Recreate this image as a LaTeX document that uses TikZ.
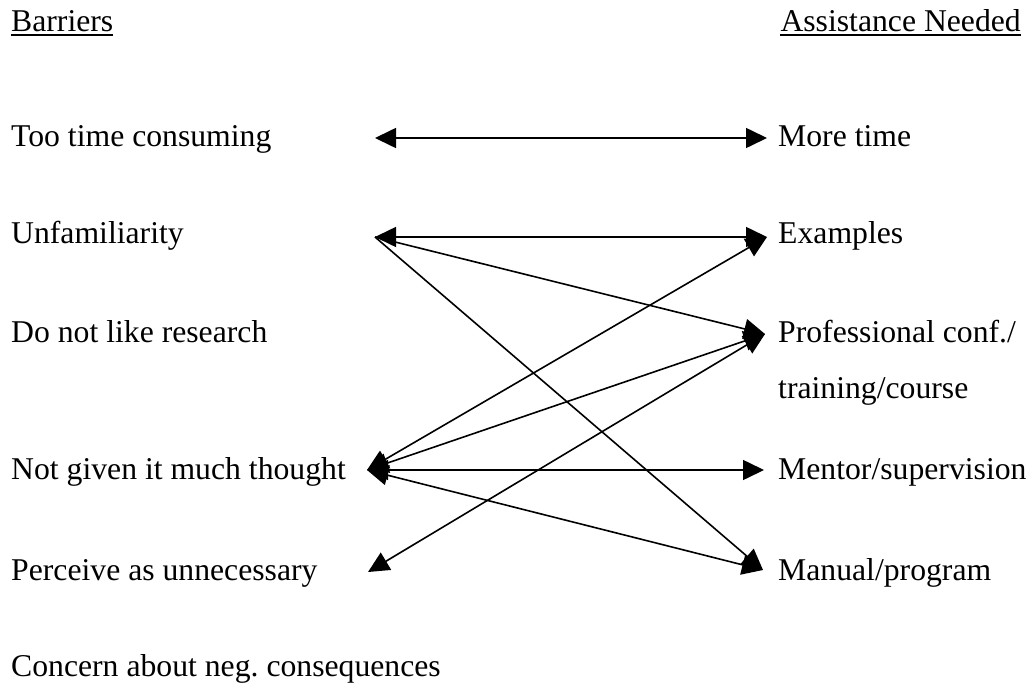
\documentclass[tikz,border=0pt]{standalone}
\usepackage{fontspec}
\setmainfont{Liberation Serif}
\usetikzlibrary{arrows.meta}
\frenchspacing
\begin{document}
\begin{tikzpicture}[x=1pt,y=-1pt,
  lbl/.style={anchor=base west,inner sep=0pt,font=\fontsize{31.7}{38}\selectfont},
  tipx/.tip={Triangle[length=21pt,width=20pt]},
  conn/.style={line width=1.6pt,-tipx},
  both/.style={line width=1.6pt,tipx-tipx},
  uline/.style={line width=1.4pt}]
\useasboundingbox (0,0) rectangle (1034,688);
% headers
\node[lbl] (hb) at (11,31) {Barriers};
\node[lbl,anchor=base east] (ha) at (1021,31) {Assistance Needed};
\draw[uline] ([yshift=-4pt]hb.base west) -- ([yshift=-4pt]hb.base east);
\draw[uline] ([yshift=-4pt]ha.base west) -- ([yshift=-4pt]ha.base east);
% barriers
\node[lbl] (b1) at (11,146) {Too time consuming};
\node[lbl] (b2) at (11,243) {Unfamiliarity};
\node[lbl] (b3) at (11,342) {Do not like research};
\node[lbl] (b4) at (11,479) {Not given it much thought};
\node[lbl] (b5) at (11,580) {Perceive as unnecessary};
\node[lbl] (b6) at (11,676) {Concern about neg. consequences};
% assistance
\node[lbl] (a1) at (778,146) {More time};
\node[lbl] (a2) at (778,243) {Examples};
\node[lbl] (a3) at (778,342) {Professional conf./};
\node[lbl] (a3b) at (778,398) {training/course};
\node[lbl] (a4) at (778,479) {Mentor/supervision};
\node[lbl] (a5) at (778,580) {Manual/program};
% connector ends
\coordinate (l1) at (375,138);
\coordinate (r1) at (767,138);
\coordinate (l2) at (375,237);
\coordinate (r2) at (767,237);
\coordinate (r3) at (765,334);
\coordinate (l4) at (367,470);
\coordinate (r4) at (764,470);
\coordinate (r5) at (763,570);
\coordinate (l5) at (368,572);
% connectors
\draw[both] (l1) -- (r1);
\draw[both] (l2) -- (r2);
\draw[conn] (l2) -- (r3);
\draw[conn] (l2) -- (r5);
\draw[both] (l4) -- (r2);
\draw[both] (l4) -- (r3);
\draw[both] (l4) -- (r4);
\draw[both] (l4) -- (r5);
\draw[both] (l5) -- (r3);
\end{tikzpicture}
\end{document}
